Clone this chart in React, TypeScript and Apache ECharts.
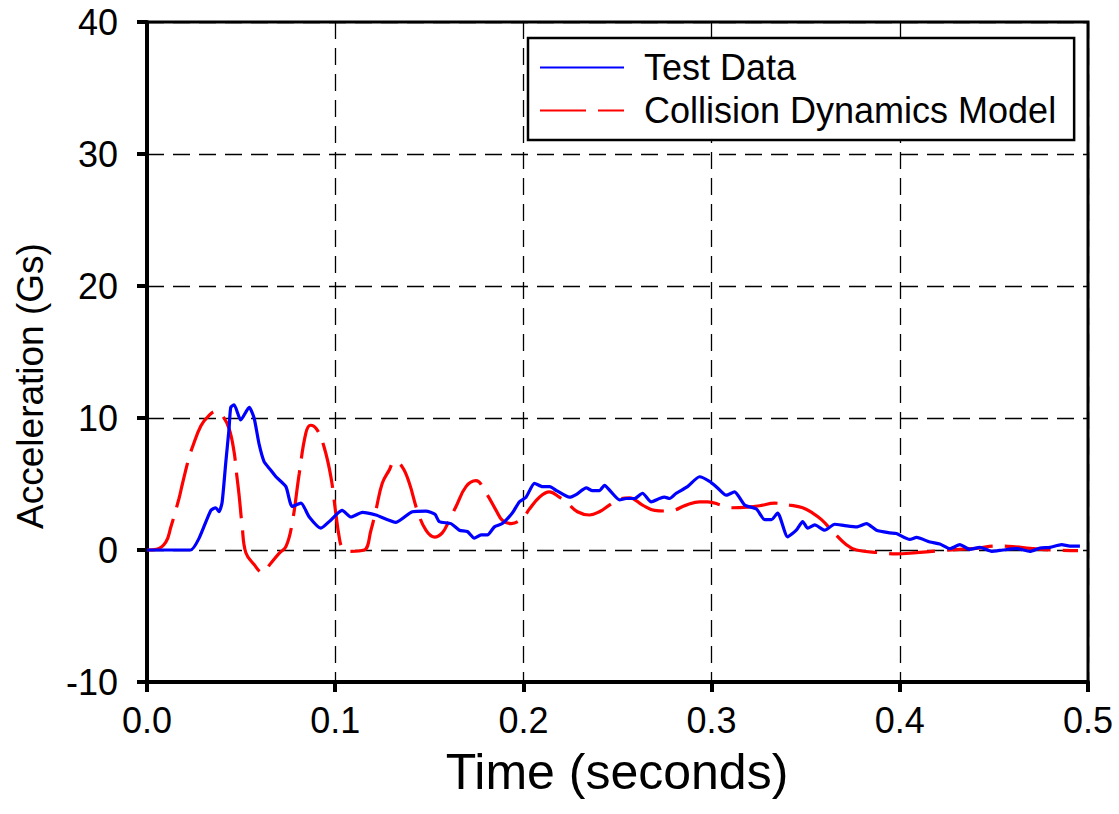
import React, { useEffect, useRef } from "react";
import * as echarts from "echarts";

const xTicks = [0, 0.1, 0.2, 0.3, 0.4, 0.5];
const yTicks = [-10, 0, 10, 20, 30, 40];

const seriesNames = ["Test Data", "Collision Dynamics Model"];

// Test Data: [time (s), acceleration (G)]
const testData: [number, number][] = [
  [0, 0], [0.0232, 0], [0.0277, 0.9], [0.0339, 3.0], [0.0365, 3.2], [0.0383, 2.9],
  [0.0399, 3.6], [0.0419, 6.7], [0.0436, 9.2], [0.0445, 10.8], [0.0463, 11.0],
  [0.0498, 9.85], [0.0543, 10.8], [0.0569, 10.0], [0.0596, 8.0], [0.0622, 6.7],
  [0.0649, 6.2], [0.0685, 5.55], [0.0738, 4.8], [0.0771, 3.3], [0.0818, 3.55],
  [0.0862, 2.5], [0.0924, 1.65], [0.0968, 2.15], [0.1037, 3.0], [0.1084, 2.5],
  [0.1144, 2.85], [0.1216, 2.65], [0.1323, 2.1], [0.1410, 2.9], [0.1482, 2.95],
  [0.1530, 2.7], [0.1553, 2.15], [0.1615, 2.0], [0.1660, 1.5], [0.1702, 1.4],
  [0.1739, 0.9], [0.1775, 1.15], [0.1809, 1.15], [0.1846, 1.75], [0.1888, 2.0],
  [0.1941, 2.8], [0.1979, 3.65], [0.2014, 4.0], [0.2059, 5.05], [0.2101, 4.8],
  [0.2140, 4.8], [0.2176, 4.5], [0.2245, 4.0], [0.2280, 4.2], [0.2334, 4.7],
  [0.2367, 4.5], [0.2404, 4.5], [0.2431, 4.9], [0.2466, 4.4], [0.2511, 3.8],
  [0.2546, 3.9], [0.2590, 3.9], [0.2633, 4.3], [0.2679, 3.65], [0.2723, 3.9],
  [0.2750, 4.0], [0.2777, 3.9], [0.2812, 4.3], [0.2872, 4.8], [0.2936, 5.55],
  [0.2989, 5.2], [0.3032, 4.7], [0.3078, 4.15], [0.3122, 4.4], [0.3176, 3.4],
  [0.3238, 3.1], [0.3282, 2.3], [0.3318, 2.3], [0.3351, 2.8], [0.3404, 1.0],
  [0.3450, 1.5], [0.3484, 2.15], [0.3511, 1.65], [0.3548, 1.9], [0.3601, 1.5],
  [0.3654, 1.95], [0.3707, 1.85], [0.3770, 1.75], [0.3823, 2.0], [0.3876, 1.5],
  [0.3947, 1.3], [0.3982, 1.25], [0.4053, 0.8], [0.4089, 0.95], [0.4160, 0.6],
  [0.4213, 0.45], [0.4266, 0.1], [0.4319, 0.4], [0.4372, 0.05], [0.4426, 0.2],
  [0.4488, -0.1], [0.4548, 0.0], [0.4621, 0.1], [0.4691, -0.1], [0.4745, 0.15],
  [0.4798, 0.2], [0.4860, 0.4], [0.4904, 0.3], [0.4957, 0.3],
];

// Collision Dynamics Model: [time (s), acceleration (G)]
const modelData: [number, number][] = [
  [0, 0], [0.005, 0.05], [0.010, 0.6], [0.0126, 1.7], [0.017, 3.9], [0.0188, 5.0],
  [0.0223, 7.0], [0.0239, 7.7], [0.0286, 9.4], [0.033, 10.2], [0.0365, 10.5],
  [0.0399, 10.2], [0.0436, 9.2], [0.0463, 7.4], [0.0475, 5.9], [0.0489, 4.2],
  [0.0505, 1.9], [0.0525, -0.2], [0.0569, -1.1], [0.0612, -1.7], [0.0658, -1.0],
  [0.0702, -0.25], [0.0738, 0.25], [0.0771, 2.0], [0.0809, 5.8], [0.0844, 8.85],
  [0.0869, 9.45], [0.0904, 9.1], [0.0941, 7.8], [0.0977, 5.55], [0.1003, 2.8],
  [0.1021, 1.0], [0.1037, 0.2], [0.1074, -0.1], [0.1154, 0.0], [0.119, 1.5],
  [0.1216, 3.0], [0.125, 5.05], [0.1287, 6.05], [0.1314, 6.7], [0.1356, 6.3],
  [0.1394, 5.05], [0.1436, 3.0], [0.1482, 1.5], [0.1527, 0.98], [0.1569, 1.3],
  [0.1606, 2.25], [0.1642, 3.3], [0.1695, 4.8], [0.1748, 5.25], [0.1802, 4.3],
  [0.1855, 3.0], [0.1888, 2.25], [0.1935, 2.0], [0.1995, 2.4], [0.2032, 3.1],
  [0.2085, 4.0], [0.2138, 4.4], [0.2191, 4.0], [0.2234, 3.55], [0.2287, 2.9],
  [0.2351, 2.65], [0.2404, 2.9], [0.2457, 3.4], [0.2511, 3.85], [0.2564, 3.95],
  [0.2633, 3.4], [0.2697, 3.0], [0.2777, 2.95], [0.2865, 3.4], [0.2936, 3.65],
  [0.2979, 3.65], [0.3052, 3.4], [0.3112, 3.2], [0.3191, 3.25], [0.3255, 3.35],
  [0.3335, 3.55], [0.3415, 3.4], [0.3484, 3.2], [0.3537, 2.8], [0.3584, 2.3],
  [0.3644, 1.4], [0.3716, 0.4], [0.3770, 0.0], [0.3894, -0.2], [0.3982, -0.3],
  [0.4089, -0.2], [0.4195, -0.08], [0.4319, 0.05], [0.4408, 0.13], [0.4514, 0.3],
  [0.4601, 0.25], [0.4691, 0.13], [0.4798, 0.0], [0.4947, -0.05],
];

const FONT = "'Liberation Sans', Arial, sans-serif";

export default function App() {
  const ref = useRef<HTMLDivElement>(null);

  useEffect(() => {
    if (!ref.current) return;
    const chart = echarts.init(ref.current, undefined, { renderer: "svg" });
    chart.setOption({
      animation: false,
      backgroundColor: "#ffffff",
      textStyle: { fontFamily: FONT },
      grid: {
        left: 147,
        right: 31,
        top: 22,
        bottom: 132,
        show: true,
        borderColor: "#000",
        borderWidth: 3,
        backgroundColor: "transparent",
      },
      legend: {
        data: seriesNames,
        orient: "vertical",
        left: 528,
        top: 38,
        padding: [8, 18, 8, 11],
        itemGap: 0,
        itemWidth: 84,
        itemHeight: 20,
        itemStyle: { opacity: 0 },
        backgroundColor: "#fff",
        borderColor: "#000",
        borderWidth: 2.5,
        borderRadius: 0,
        textStyle: {
          fontSize: 36,
          color: "#000",
          fontFamily: FONT,
          lineHeight: 43,
          padding: [0, 0, 0, 15],
        },
      },
      xAxis: {
        type: "value",
        min: xTicks[0],
        max: xTicks[xTicks.length - 1],
        interval: 0.1,
        axisLine: { show: true, onZero: false, lineStyle: { color: "#000", width: 4 } },
        axisTick: { show: true, length: 10, lineStyle: { color: "#000", width: 4 } },
        axisLabel: {
          fontSize: 36,
          color: "#000",
          fontFamily: FONT,
          margin: 20,
          lineHeight: 36,
          formatter: (v: number) => v.toFixed(1),
        },
        splitLine: {
          show: true,
          lineStyle: { color: "#000", width: 1.3, type: [17, 9] },
        },
      },
      yAxis: {
        type: "value",
        min: yTicks[0],
        max: yTicks[yTicks.length - 1],
        interval: 10,
        axisLine: { show: true, onZero: false, lineStyle: { color: "#000", width: 4 } },
        axisTick: { show: true, length: 10, lineStyle: { color: "#000", width: 4 } },
        axisLabel: {
          fontSize: 36,
          color: "#000",
          fontFamily: FONT,
          margin: 29,
        },
        splitLine: {
          show: true,
          lineStyle: { color: "#000", width: 1.3, type: [17, 9] },
        },
      },
      graphic: [
        {
          type: "text",
          x: 30,
          y: 386,
          rotation: Math.PI / 2,
          style: {
            text: "Acceleration (Gs)",
            font: `37px ${FONT}`,
            fill: "#000",
            textAlign: "center",
            textVerticalAlign: "middle",
          },
        },
        {
          type: "text",
          x: 617,
          y: 772,
          style: {
            text: "Time (seconds)",
            font: `50px ${FONT}`,
            fill: "#000",
            textAlign: "center",
            textVerticalAlign: "middle",
          },
        },
      ],
      series: [
        {
          name: seriesNames[0],
          type: "line",
          data: testData,
          symbol: "none",
          showSymbol: false,
          smooth: 0.2,
          lineStyle: { color: "#0000ff", width: 3.2 },
          itemStyle: { color: "#0000ff" },
          z: 3,
        },
        {
          name: seriesNames[1],
          type: "line",
          data: modelData,
          symbol: "none",
          showSymbol: false,
          smooth: 0.4,
          lineStyle: { color: "#ff0000", width: 3.2, type: [46, 12] },
          itemStyle: { color: "#ff0000" },
          z: 2,
        },
      ],
    });
    return () => chart.dispose();
  }, []);

  return (
    <div
      ref={ref}
      style={{ position: "fixed", left: 0, top: 0, width: 1119, height: 814, background: "#fff" }}
    />
  );
}
